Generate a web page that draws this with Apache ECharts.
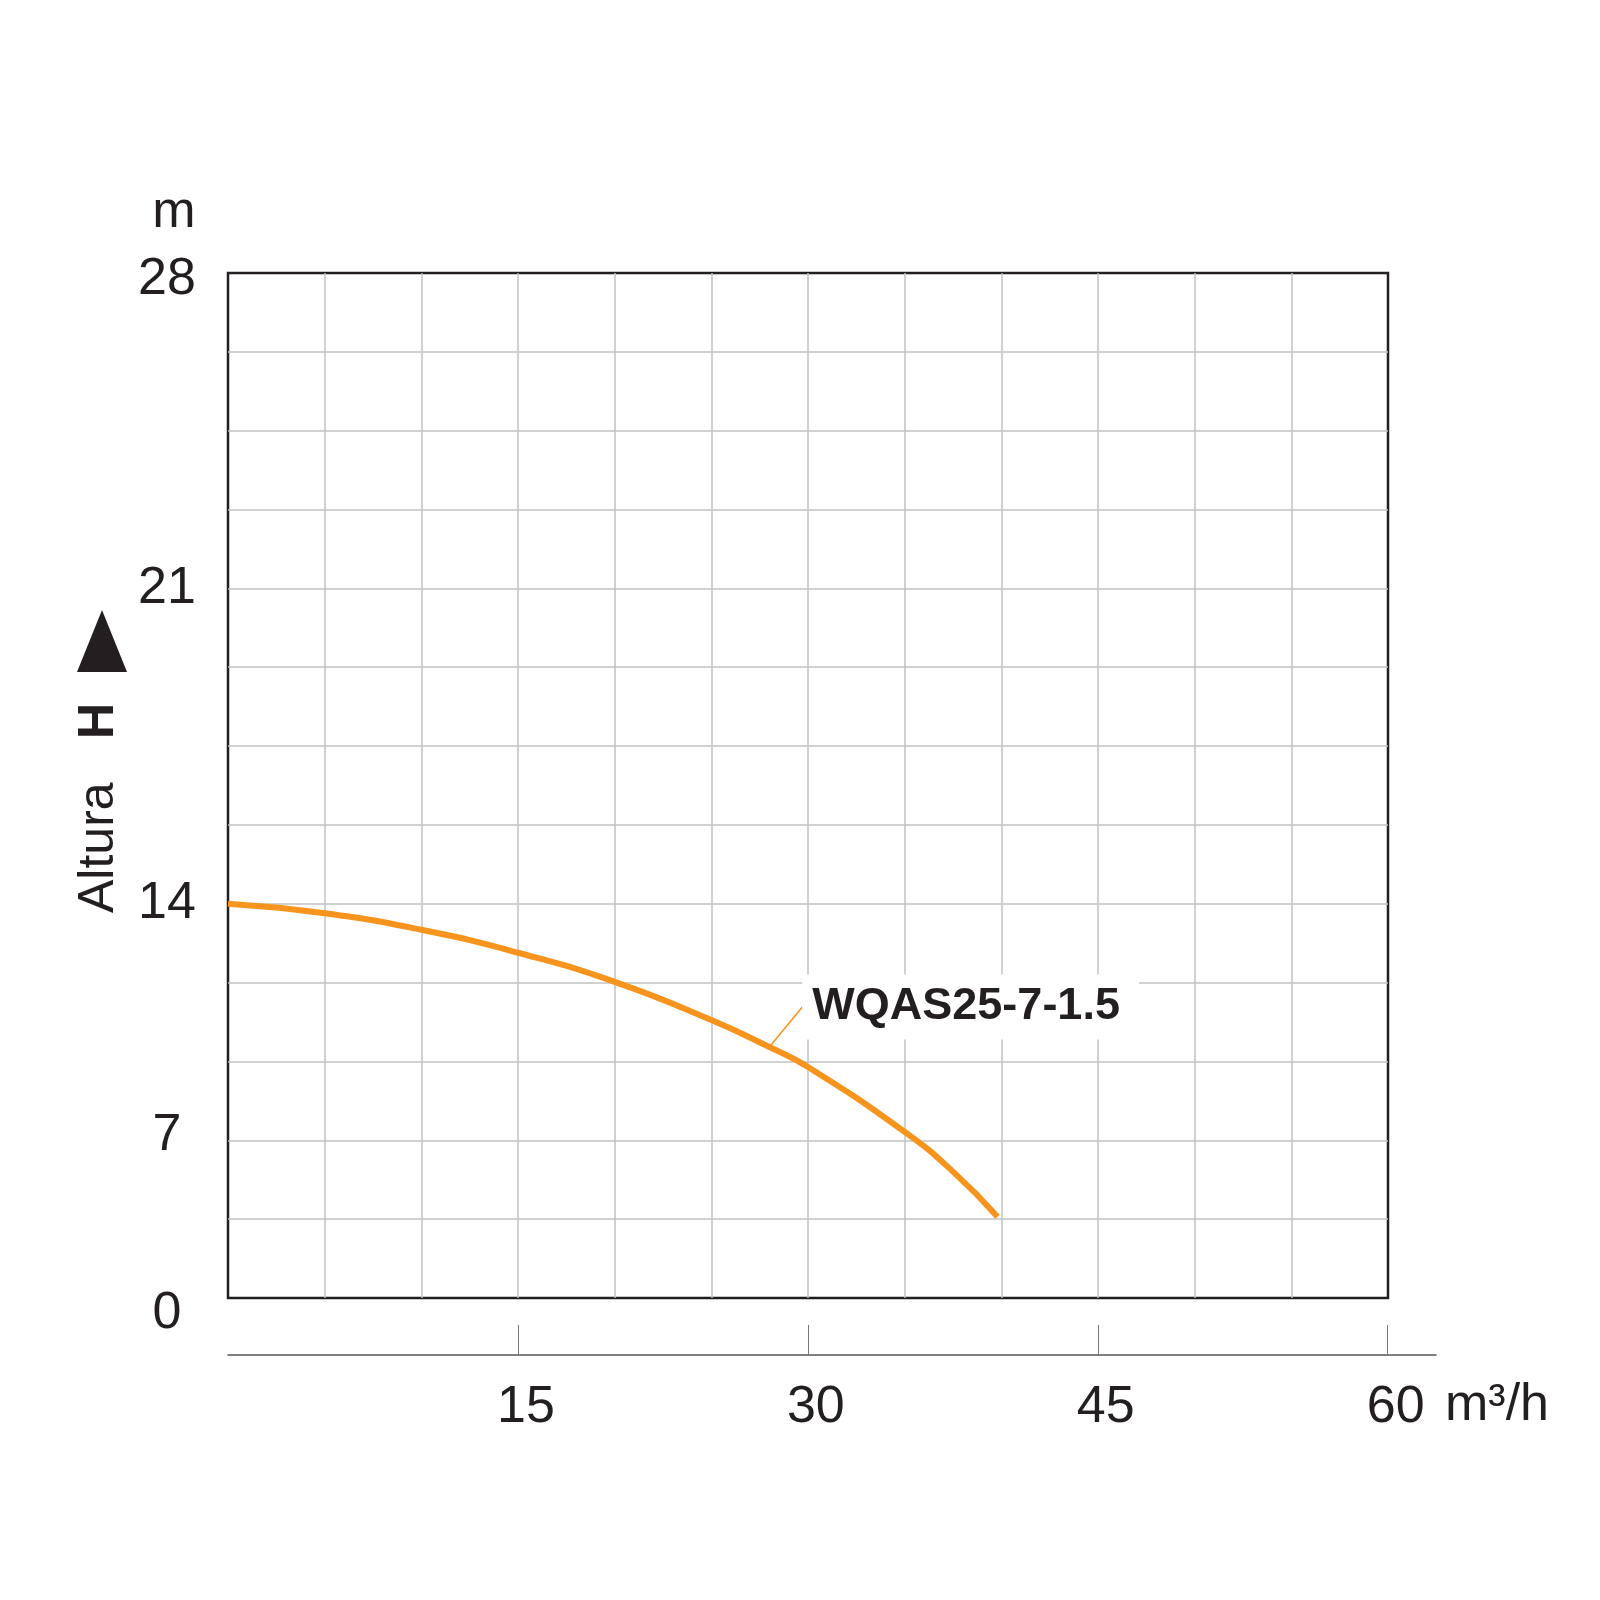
<!DOCTYPE html>
<html>
<head>
<meta charset="utf-8">
<script src="https://cdn.jsdelivr.net/npm/echarts@6/dist/echarts.min.js"></script>
<style>
  html, body { margin: 0; padding: 0; background: #fff; }
  #chart { width: 1600px; height: 1600px; }
</style>
</head>
<body>
<div id="chart"></div>
<script>
// pump curve WQAS25-7-1.5
const curveName = 'WQAS25-7-1.5';
const flowRate = [0, 5, 10, 15, 20, 25, 28, 30, 35, 37.5, 39.8];              // m3/h
const headM = [14, 13.72, 13.23, 12.55, 11.69, 10.56, 9.76, 9.17, 7.25, 5.61, 3.61]; // m
const labelPoint = 6; // index of the point the name is pinned to

// the printed head scale is uneven: its labels sit on these grid rows (13 rows)
const yTicks = [0, 7, 14, 21, 28];
const yTickRows = [0, 2, 5, 9, 13];
const xTicks = [15, 30, 45, 60];

const FONT = '"Liberation Sans", Arial, Helvetica, sans-serif';
const INK = '#231f20';
const ORANGE = '#f7941d';

// meters -> grid row, following the printed scale piece by piece
function rowOf(h) {
    for (let i = 1; i < yTicks.length; i++) {
        if (h <= yTicks[i]) {
            const t = (h - yTicks[i - 1]) / (yTicks[i] - yTicks[i - 1]);
            return yTickRows[i - 1] + t * (yTickRows[i] - yTickRows[i - 1]);
        }
    }
    return yTickRows[yTickRows.length - 1];
}

const seriesData = flowRate.map(function (q, i) {
    const item = { value: [q, rowOf(headM[i])] };
    if (i === labelPoint) {
        item.label = { show: true };
    }
    return item;
});

let myChart = echarts.init(document.getElementById('chart'));

let option = {
    backgroundColor: '#fff',
    animation: false,
    textStyle: { fontFamily: FONT },
    grid: [{
        left: 228, top: 273, width: 1160, height: 1025,
        show: true, borderColor: INK, borderWidth: 2.5, backgroundColor: 'transparent'
    }, {
        left: 228, top: 1300, width: 1208, height: 55
    }],
    xAxis: [{
        gridIndex: 0,
        type: 'value',
        min: 0, max: 60, interval: 5,
        axisLine: { show: false },
        axisTick: { show: false },
        axisLabel: { show: false },
        splitLine: {
            show: true, showMinLine: false, showMaxLine: false,
            lineStyle: { color: '#c2c2c2', width: 1.5 }
        }
    }, {
        gridIndex: 1,
        type: 'value',
        min: 0, max: 62.5,
        name: 'm³/h',
        nameLocation: 'end',
        nameGap: 9,
        nameTextStyle: {
            fontSize: 52, color: INK, fontFamily: FONT,
            verticalAlign: 'top', padding: [25, 0, 0, 0]
        },
        axisLine: { show: true, lineStyle: { color: '#555', width: 1.5 } },
        axisTick: {
            show: true, inside: true, length: 30, customValues: xTicks,
            lineStyle: { color: '#777', width: 1 }
        },
        axisLabel: {
            show: true, customValues: xTicks,
            fontSize: 52, color: INK, fontFamily: FONT,
            margin: 53, verticalAlign: 'middle', padding: [0, 0, 0, 16]
        },
        splitLine: { show: false }
    }],
    yAxis: [{
        gridIndex: 0,
        type: 'value',
        min: 0, max: 13, interval: 1,
        name: 'm',
        nameLocation: 'end',
        nameGap: 34,
        nameTextStyle: {
            fontSize: 52, color: INK, fontFamily: FONT,
            padding: [0, 108, 0, 0]
        },
        axisLine: { show: false },
        axisTick: { show: false },
        axisLabel: {
            show: true,
            customValues: yTickRows,
            fontSize: 52, color: INK, fontFamily: FONT,
            align: 'center', margin: 61,
            formatter: function (v) {
                const k = yTickRows.indexOf(v);
                const txt = String(yTicks[k]);
                if (k === 0) return '{lo|' + txt + '}';
                if (k === 1) return '{hi|' + txt + '}';
                if (k === yTicks.length - 1) return '{top|' + txt + '}';
                return txt;
            },
            rich: {
                lo: { fontSize: 52, color: INK, fontFamily: FONT, padding: [32, 0, 0, 0] },
                hi: { fontSize: 52, color: INK, fontFamily: FONT, padding: [0, 0, 10, 0] },
                top: { fontSize: 52, color: INK, fontFamily: FONT, padding: [14, 0, 0, 0] }
            }
        },
        splitLine: {
            show: true, showMinLine: false, showMaxLine: false,
            lineStyle: { color: '#c2c2c2', width: 1.5 }
        }
    }, {
        gridIndex: 1,
        type: 'value',
        show: false
    }],
    series: [{
        name: curveName,
        type: 'line',
        xAxisIndex: 0,
        yAxisIndex: 0,
        data: seriesData,
        smooth: true,
        showSymbol: true,
        symbol: 'circle',
        symbolSize: 0,
        lineStyle: { color: ORANGE, width: 6 },
        itemStyle: { color: ORANGE },
        label: {
            show: false,
            position: 'right',
            distance: 0,
            formatter: curveName,
            fontSize: 45,
            fontWeight: 'bold',
            fontFamily: FONT,
            color: INK,
            backgroundColor: '#fff',
            padding: [10, 19, 10, 10]
        },
        labelLayout: { dx: 33, dy: -40 },
        labelLine: { show: true, lineStyle: { color: ORANGE, width: 1.5 } },
        emphasis: { disabled: true }
    }],
    graphic: [{
        type: 'text',
        x: 99, y: 913,
        rotation: Math.PI / 2,
        style: {
            text: 'Altura', fontSize: 50, fontFamily: FONT, fill: INK,
            align: 'left', verticalAlign: 'middle'
        }
    }, {
        type: 'text',
        x: 99, y: 739,
        rotation: Math.PI / 2,
        style: {
            text: 'H', fontSize: 50, fontWeight: 'bold', fontFamily: FONT, fill: INK,
            align: 'left', verticalAlign: 'middle'
        }
    }, {
        type: 'polygon',
        shape: { points: [[77, 672], [127, 672], [102, 610]] },
        style: { fill: INK }
    }]
};

myChart.setOption(option);
</script>
</body>
</html>
